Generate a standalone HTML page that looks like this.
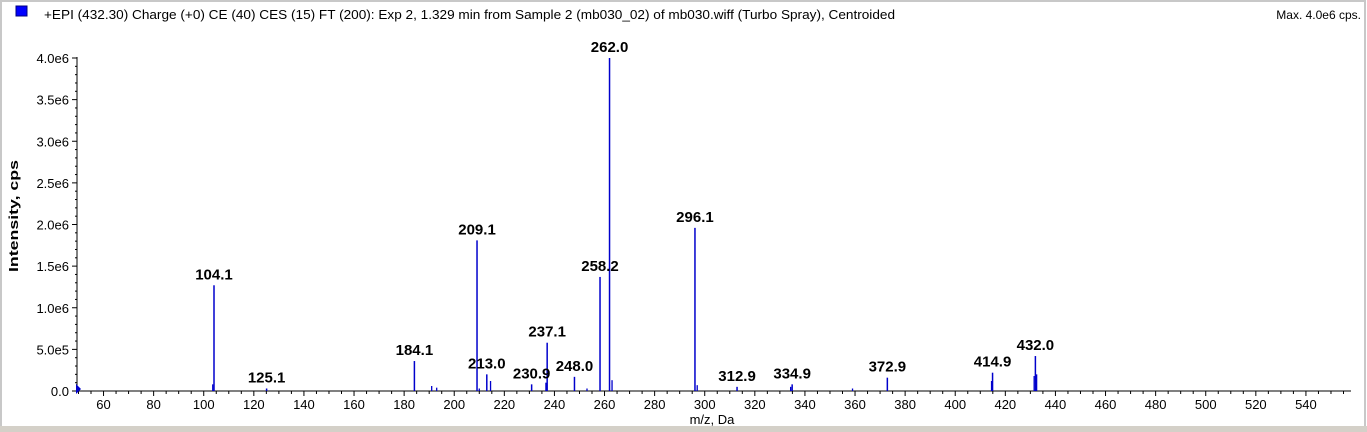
<!DOCTYPE html>
<html><head><meta charset="utf-8"><style>
html,body{margin:0;padding:0;background:#fff;}
svg{display:block;font-family:"Liberation Sans",Arial,sans-serif;}
</style></head><body>
<svg id="chart" width="1367" height="432">
<rect x="1" y="1" width="1364" height="428" fill="#fff" stroke="#c8c8c8" stroke-width="2"/>
<rect x="0" y="426" width="1367" height="6" fill="#d4d0c8"/>
<rect x="16" y="6" width="11" height="10" fill="#0000ff" stroke="#000080"/>
<text x="44" y="19" font-size="13" textLength="851" lengthAdjust="spacingAndGlyphs" fill="#000">+EPI (432.30) Charge (+0) CE (40) CES (15) FT (200): Exp 2, 1.329 min from Sample 2 (mb030_02) of mb030.wiff (Turbo Spray), Centroided</text>
<text x="1361" y="19" font-size="12" text-anchor="end">Max. 4.0e6 cps.</text>
<text transform="translate(18,216) rotate(-90)" font-size="13" font-weight="bold" text-anchor="middle" textLength="112" lengthAdjust="spacingAndGlyphs">Intensity, cps</text>
<text x="712" y="424" font-size="13" text-anchor="middle">m/z, Da</text>
<g id="axes"></g>
<g id="bars"></g>
<g id="labels"></g>
</svg>
<script>
const peakMz=[104.1,125.1,184.1,209.1,213.0,230.9,237.1,248.0,258.2,262.0,296.1,312.9,334.9,372.9,414.9,432.0];
const peakInt=[1.27e6,0.03e6,0.36e6,1.81e6,0.2e6,0.08e6,0.58e6,0.17e6,1.37e6,4.0e6,1.96e6,0.05e6,0.08e6,0.16e6,0.22e6,0.42e6];
const peakLabels=["104.1","125.1","184.1","209.1","213.0","230.9","237.1","248.0","258.2","262.0","296.1","312.9","334.9","372.9","414.9","432.0"];
const minorMz=[103.6,191,193,210,214.5,236.6,253,263,297,334.3,359,414.5,431.5,432.5];
const minorInt=[0.08e6,0.06e6,0.04e6,0.03e6,0.12e6,0.1e6,0.03e6,0.13e6,0.07e6,0.05e6,0.03e6,0.12e6,0.18e6,0.2e6];
const xTicks=[60,80,100,120,140,160,180,200,220,240,260,280,300,320,340,360,380,400,420,440,460,480,500,520,540];
const yTicks=[0,0.5e6,1.0e6,1.5e6,2.0e6,2.5e6,3.0e6,3.5e6,4.0e6];
const yTickLabels=["0.0","5.0e5","1.0e6","1.5e6","2.0e6","2.5e6","3.0e6","3.5e6","4.0e6"];
const NS="http://www.w3.org/2000/svg";
const X=m=>214+(m-104.1)*2.505;
const Y=v=>391-v/4e6*333;
const axX0=77, axX1=1351, axY=391;
function mk(tag,attrs,parent){const e=document.createElementNS(NS,tag);for(const k in attrs)e.setAttribute(k,attrs[k]);document.getElementById(parent).appendChild(e);return e;}
let e;
e=mk('line',{x1:axX0,y1:axY,x2:axX1,y2:axY,stroke:'#000'},'axes');


e=mk('line',{x1:axX0,y1:axY,x2:axX0,y2:Y(4.0e6)-1,stroke:'#000'},'axes');


for(let m=50;m<=555;m+=5){const major=m%20===0;
 e=mk('line',{x1:X(m),y1:axY,x2:X(m),y2:axY+(major?5:3),stroke:'#000'},'axes');
 
 }
xTicks.forEach(t=>{e=mk('text',{x:X(t),y:409,'font-size':13,'text-anchor':'middle'},'axes');e.textContent=t;
 
 });
for(let v=0;v<=4.0e6+1;v+=1e5){const major=Math.round(v/1e5)%5===0;
 e=mk('line',{x1:axX0-(major?5:2),y1:Y(v),x2:axX0,y2:Y(v),stroke:'#000'},'axes');
 
 }
yTicks.forEach((t,i)=>{e=mk('text',{x:69,y:Y(t)+5,'font-size':13,'text-anchor':'end'},'axes');e.textContent=yTickLabels[i];
 
 });
e=mk('polygon',{points:`${axX0-1},384 ${axX0+4},389 ${axX0-1},394`,fill:'#0000cc'},'axes');


minorMz.forEach((m,i)=>{e=mk('line',{x1:X(m),y1:axY,x2:X(m),y2:Y(minorInt[i]),stroke:'#0000cc','stroke-width':1.3},'bars');
 
 });
peakMz.forEach((m,i)=>{e=mk('line',{x1:X(m),y1:axY,x2:X(m),y2:Y(peakInt[i]),stroke:'#0000cc','stroke-width':1.5},'bars');
 
 
 e=mk('text',{x:X(m),y:Y(peakInt[i])-6,'font-size':15,'font-weight':'bold','text-anchor':'middle'},'labels');
 e.textContent=peakLabels[i];
 
 });
</script>
</body></html>
